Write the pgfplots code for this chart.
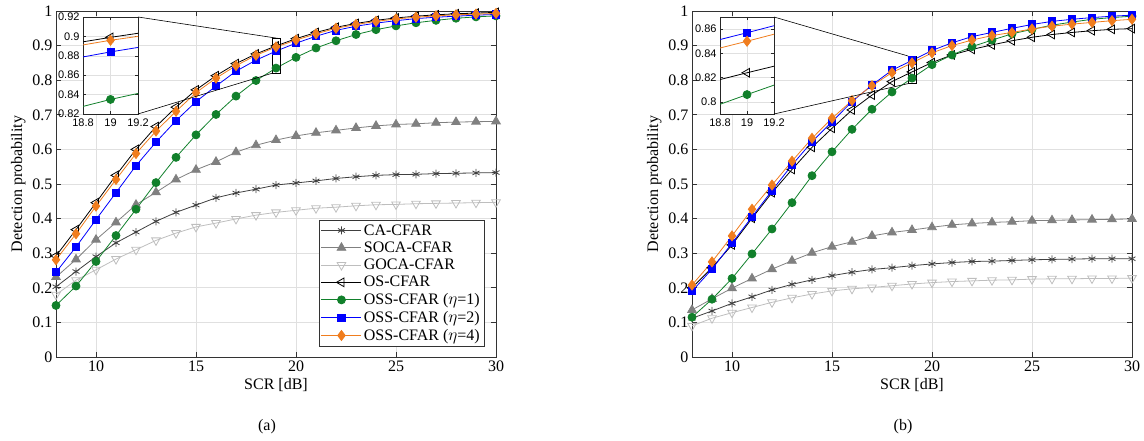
\documentclass[border=0pt]{standalone}
\usepackage{fontspec}
\setmainfont{Liberation Serif}
\setsansfont{Liberation Sans}
\usepackage{pgfplots}
\usepackage{pgfplotstable}
\pgfplotsset{compat=1.18}

\definecolor{cacol}{RGB}{64,64,64}
\definecolor{socacol}{RGB}{128,128,128}
\definecolor{gocacol}{RGB}{190,190,190}
\definecolor{osscol}{RGB}{17,128,43}
\definecolor{ossblue}{RGB}{0,0,255}
\definecolor{ossorange}{RGB}{240,125,30}

\newcommand{\fs}{\fontsize{16}{19}\selectfont}

% panel (a)
\pgfplotstableread{
x  ca    soca  goca  os    g     b     o
8  0.203 0.231 0.180 0.292 0.149 0.245 0.281
9  0.247 0.282 0.222 0.368 0.205 0.318 0.356
10 0.290 0.339 0.252 0.446 0.276 0.397 0.436
11 0.330 0.389 0.283 0.525 0.351 0.475 0.513
12 0.361 0.440 0.310 0.600 0.427 0.553 0.588
13 0.392 0.476 0.337 0.666 0.504 0.621 0.653
14 0.418 0.513 0.358 0.722 0.577 0.683 0.710
15 0.439 0.541 0.376 0.772 0.642 0.738 0.764
16 0.460 0.564 0.387 0.813 0.701 0.783 0.806
17 0.474 0.592 0.399 0.848 0.754 0.826 0.842
18 0.485 0.612 0.410 0.876 0.799 0.858 0.872
19 0.497 0.627 0.418 0.899 0.835 0.884 0.896
20 0.503 0.639 0.424 0.920 0.866 0.907 0.916
21 0.509 0.648 0.430 0.938 0.893 0.927 0.934
22 0.516 0.655 0.433 0.953 0.914 0.944 0.950
23 0.521 0.662 0.437 0.964 0.932 0.956 0.961
24 0.525 0.668 0.440 0.973 0.946 0.965 0.970
25 0.527 0.672 0.441 0.980 0.957 0.972 0.977
26 0.528 0.674 0.443 0.985 0.966 0.978 0.982
27 0.530 0.677 0.444 0.989 0.973 0.982 0.986
28 0.531 0.679 0.445 0.992 0.979 0.985 0.989
29 0.532 0.680 0.446 0.994 0.983 0.988 0.991
30 0.533 0.681 0.447 0.996 0.986 0.990 0.993
}\dataA

% panel (b)
\pgfplotstableread{
x  ca    soca  goca  os    g     b     o
8  0.112 0.136 0.090 0.200 0.115 0.190 0.208
9  0.133 0.168 0.112 0.258 0.167 0.254 0.275
10 0.155 0.199 0.128 0.324 0.227 0.329 0.350
11 0.174 0.227 0.143 0.401 0.298 0.405 0.427
12 0.194 0.254 0.158 0.475 0.370 0.481 0.497
13 0.210 0.278 0.171 0.542 0.446 0.555 0.566
14 0.223 0.301 0.182 0.606 0.524 0.622 0.632
15 0.235 0.319 0.191 0.661 0.593 0.680 0.690
16 0.245 0.333 0.197 0.714 0.658 0.738 0.741
17 0.253 0.350 0.201 0.757 0.716 0.786 0.784
18 0.258 0.360 0.206 0.796 0.766 0.829 0.822
19 0.264 0.367 0.211 0.824 0.806 0.857 0.850
20 0.269 0.375 0.215 0.851 0.845 0.886 0.879
21 0.273 0.382 0.218 0.873 0.873 0.908 0.900
22 0.276 0.386 0.220 0.889 0.897 0.926 0.916
23 0.277 0.389 0.222 0.902 0.916 0.938 0.929
24 0.279 0.391 0.223 0.914 0.934 0.950 0.938
25 0.281 0.394 0.225 0.924 0.947 0.961 0.948
26 0.282 0.395 0.226 0.932 0.959 0.970 0.956
27 0.283 0.396 0.226 0.938 0.968 0.976 0.962
28 0.284 0.397 0.227 0.943 0.976 0.981 0.967
29 0.284 0.398 0.227 0.947 0.981 0.985 0.972
30 0.284 0.399 0.228 0.949 0.985 0.988 0.976
}\dataB

\newcommand{\allcurves}[1]{%
  \addplot[cacol, mark=asterisk, mark size=4pt] table[x=x,y=ca]{#1};
  \addplot[socacol, mark=triangle*, mark size=5pt] table[x=x,y=soca]{#1};
  \addplot[gocacol, mark=triangle, mark size=5pt, mark options={rotate=180,fill=white}] table[x=x,y=goca]{#1};
  \addplot[black, mark=triangle, mark size=5pt, mark options={rotate=90,fill=white}] table[x=x,y=os]{#1};
  \addplot[osscol, mark=*, mark size=4pt] table[x=x,y=g]{#1};
  \addplot[ossblue, mark=square*, mark size=3.6pt] table[x=x,y=b]{#1};
  \addplot[ossorange, mark=diamond*, mark size=5pt] table[x=x,y=o]{#1};
}

\pgfplotsset{
  mainax/.style={
    scale only axis, width=440pt, height=346pt, anchor=south west,
    xmin=8, xmax=30, ymin=0, ymax=1,
    xtick={10,15,20,25,30},
    ytick={0,0.1,0.2,0.3,0.4,0.5,0.6,0.7,0.8,0.9,1},
    grid=major, major grid style={black!12, line width=0.6pt},
    axis line style={black!80, line width=0.6pt},
    tick style={black!80, line width=0.6pt},
    tick align=inside, major tick length=5pt,
    /pgf/number format/assume math mode=true,
    tick label style={font=\fs},
    label style={font=\fs},
    xlabel={SCR [dB]}, ylabel={Detection probability},
    every axis plot/.append style={line width=0.8pt},
    mark options={solid},
  },
  insax/.style={
    scale only axis, width=55pt, height=97pt, anchor=south west,
    xmin=18.8, xmax=19.2, xtick={18.8,19,19.2},
    grid=major, major grid style={black!12, line width=0.5pt},
    axis line style={black!85, line width=0.6pt},
    tick style={black!85, line width=0.5pt},
    tick align=inside, major tick length=3pt,
    axis background/.style={fill=white},
    /pgf/number format/assume math mode=true,
    tick label style={font=\fontsize{11}{13}\sffamily},
    xticklabel style={yshift=-1.5pt},
    every axis plot/.append style={line width=0.8pt},
  },
  legend image code/.code={%
    \draw[mark repeat=2, mark phase=2, #1] plot coordinates {(0pt,0pt) (20pt,0pt) (40pt,0pt)};},
}

\begin{document}
\begin{tikzpicture}[font=\fs]
\useasboundingbox (0,0) rectangle (1144pt,441pt);

% ---- (a)
\begin{axis}[mainax, name=axa, at={(56pt,84pt)},
  legend style={at={(1,0)}, anchor=south east, xshift=-12pt, yshift=11pt,
    font=\fs, draw=black!80, cells={anchor=west}, row sep=1.2pt, inner sep=2pt}]
\allcurves{\dataA}
\legend{CA-CFAR, SOCA-CFAR, GOCA-CFAR, OS-CFAR,
  OSS-CFAR ($\eta$=1), OSS-CFAR ($\eta$=2), OSS-CFAR ($\eta$=4)}
\draw[black, line width=0.6pt] (axis cs:18.8,0.82) rectangle (axis cs:19.2,0.92);
\coordinate (ra1) at (axis cs:19.2,0.92);
\coordinate (ra2) at (axis cs:18.8,0.82);
\end{axis}
\begin{axis}[insax, name=insa, at={(83pt,327pt)}, ymin=0.82, ymax=0.92,
  ytick={0.82,0.84,0.86,0.88,0.9,0.92}]
\allcurves{\dataA}
\end{axis}
\draw[black, line width=0.6pt] (insa.north east) -- (ra1);
\draw[black, line width=0.6pt] (insa.south east) -- (ra2);
\node at ([xshift=-9pt,yshift=-70pt]axa.south) {(a)};

% ---- (b)
\begin{axis}[mainax, name=axb, at={(692pt,84pt)}]
\allcurves{\dataB}
\draw[black, line width=0.6pt] (axis cs:18.8,0.79) rectangle (axis cs:19.2,0.87);
\coordinate (rb1) at (axis cs:18.8,0.87);
\coordinate (rb2) at (axis cs:18.8,0.79);
\end{axis}
\begin{axis}[insax, name=insb, at={(720pt,327pt)}, width=54pt, ymin=0.79, ymax=0.87,
  ytick={0.8,0.82,0.84,0.86}]
\allcurves{\dataB}
\end{axis}
\draw[black, line width=0.6pt] (insb.north east) -- (rb1);
\draw[black, line width=0.6pt] (insb.south east) -- (rb2);
\node at ([xshift=-9pt,yshift=-70pt]axb.south) {(b)};
\end{tikzpicture}
\end{document}
